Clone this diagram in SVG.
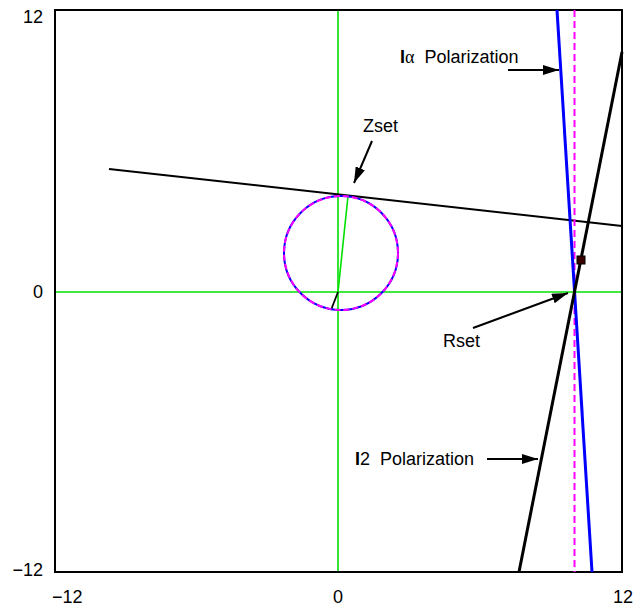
<svg xmlns="http://www.w3.org/2000/svg" width="642" height="608" viewBox="0 0 642 608">
<defs>
<style>
text{font-family:"Liberation Sans",Arial,sans-serif;font-size:18px;fill:#000;white-space:pre}
.ax{stroke:#000;stroke-width:2;fill:none}
.g{stroke:#00e000;stroke-width:1.6;fill:none}
.arr{stroke:#000;stroke-width:2;fill:none;marker-end:url(#ah)}
</style>
<marker id="ah" viewBox="0 0 16 10" refX="16" refY="5" markerWidth="16" markerHeight="10" markerUnits="userSpaceOnUse" orient="auto">
<path d="M0,0 L16,5 L0,10 z" fill="#000"/>
</marker>
</defs>
<rect width="642" height="608" fill="#fff"/>
<g id="axes">
<line class="g" x1="338" y1="10" x2="338" y2="572"/>
<line class="g" x1="55" y1="292" x2="622" y2="292"/>
<path class="ax" d="M55,10 H622 V572 H55 Z"/>
<text x="43" y="23" text-anchor="end">12</text>
<text x="43" y="298" text-anchor="end">0</text>
<text x="43" y="576" text-anchor="end">−12</text>
<text x="52" y="603">−12</text>
<text x="338" y="603" text-anchor="middle">0</text>
<text x="623" y="603" text-anchor="middle">12</text>
</g>
<g id="connectors">
<line x1="109" y1="169" x2="622" y2="226" stroke="#000" stroke-width="2"/>
<line x1="338" y1="292" x2="348" y2="196" stroke="#00e000" stroke-width="1.6"/>
<line x1="338" y1="292" x2="331" y2="310" stroke="#000" stroke-width="1.8"/>
<line x1="574.5" y1="10" x2="574.5" y2="572" stroke="#ff00ff" stroke-width="2" stroke-dasharray="7,4"/>
<line x1="557" y1="10" x2="592" y2="572" stroke="#0000ff" stroke-width="3"/>
<line x1="519" y1="572" x2="622" y2="52" stroke="#000" stroke-width="3"/>
<line class="arr" x1="508" y1="70" x2="559" y2="70"/>
<line class="arr" x1="372" y1="141" x2="354" y2="183"/>
<line class="arr" x1="473" y1="328" x2="568" y2="293"/>
<line class="arr" x1="487" y1="459" x2="538" y2="459"/>
</g>
<g id="circle">
<circle cx="341" cy="253" r="57" fill="none" stroke="#0000ff" stroke-width="2"/>
<circle cx="341" cy="253" r="57" fill="none" stroke="#ff00ff" stroke-width="2" stroke-dasharray="6,3"/>
</g>
<g id="rset-point">
<rect x="577" y="256" width="8" height="8" fill="#3a0000" stroke="#000" stroke-width="1"/>
</g>
<g id="labels">
<text x="400" y="63"><tspan font-weight="bold">I</tspan><tspan font-family="'Liberation Serif',serif">α</tspan>  Polarization</text>
<text x="363" y="132">Zset</text>
<text x="443" y="347">Rset</text>
<text x="355" y="465"><tspan font-weight="bold">I</tspan>2  Polarization</text>
</g>
</svg>
